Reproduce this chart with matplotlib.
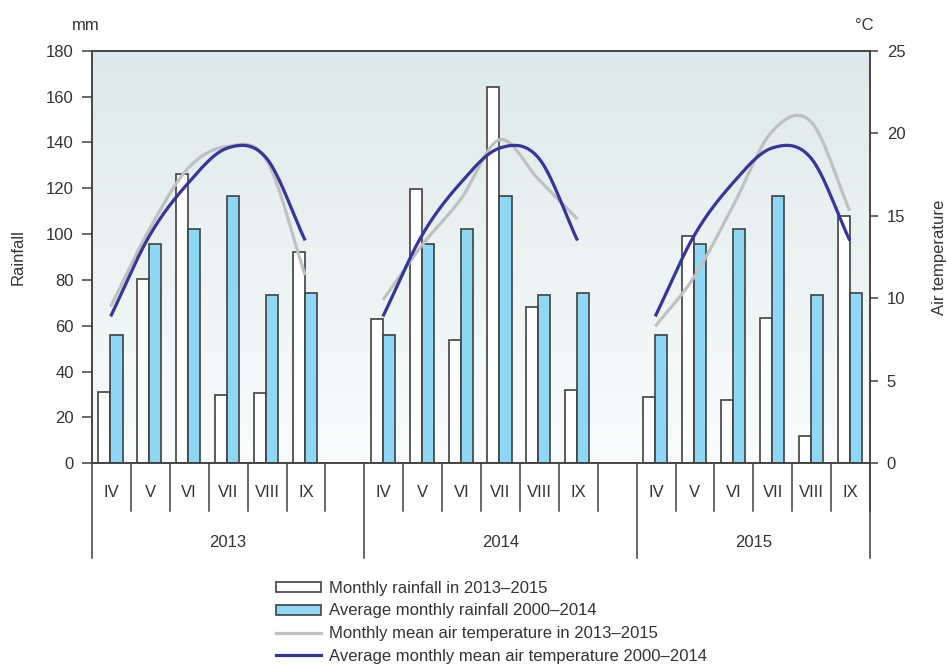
import numpy as np
import matplotlib.pyplot as plt
from matplotlib.colors import LinearSegmentedColormap
from matplotlib.patches import Patch
from matplotlib.lines import Line2D

plt.rcParams['font.family'] = ['Liberation Sans', 'DejaVu Sans']
plt.rcParams['font.size'] = 12

months = ['IV', 'V', 'VI', 'VII', 'VIII', 'IX']
years = ['2013', '2014', '2015']

# rainfall, mm
rain_2013 = [31, 80.5, 126, 30, 30.5, 92]
rain_2014 = [63, 119.5, 54, 164, 68, 32]
rain_2015 = [29, 99, 27.5, 63.5, 12, 108]
rain_avg = [56, 95.5, 102, 116.5, 73.5, 74.5]

# air temperature, deg C
temp_2013 = [9.5, 14.2, 17.9, 19.2, 18.4, 11.4]
temp_2014 = [9.9, 13.2, 16.0, 19.6, 17.2, 14.8]
temp_2015 = [8.3, 11.3, 15.6, 20.1, 20.7, 15.3]
temp_avg = [8.9, 13.8, 17.0, 19.1, 18.5, 13.5]

rain_by_year = [rain_2013, rain_2014, rain_2015]
temp_by_year = [temp_2013, temp_2014, temp_2015]

DARK = '#404040'
BLUE_BAR = '#8ed8f6'
GREY_LINE = '#c0c0c0'
BLUE_LINE = '#35359b'


def smooth(x, y, n=40):
    # Catmull-Rom curve through the points (like a spreadsheet "smooth line")
    x = np.asarray(x, float)
    y = np.asarray(y, float)
    py = np.concatenate([[2 * y[0] - y[1]], y, [2 * y[-1] - y[-2]]])
    t = np.linspace(0, 1, n)
    xs, ys = [], []
    for i in range(len(y) - 1):
        p0, p1, p2, p3 = py[i:i + 4]
        seg = 0.5 * (2 * p1 + (p2 - p0) * t + (2 * p0 - 5 * p1 + 4 * p2 - p3) * t ** 2
                     + (3 * p1 - p0 - 3 * p2 + p3) * t ** 3)
        xs.append(x[i] + (x[i + 1] - x[i]) * t)
        ys.append(seg)
    return np.concatenate(xs), np.concatenate(ys)


fig = plt.figure(figsize=(9.47, 6.66), dpi=100)
ax = fig.add_axes([92 / 947, 1 - 463.3 / 666, 778 / 947, 412.6 / 666])
ax2 = ax.twinx()

# soft background gradient, darker at the top
grad = np.linspace(0, 1, 256).reshape(-1, 1)
cmap = LinearSegmentedColormap.from_list('bg', ['#dde9ea', '#fafcfc'])
ax.imshow(grad, extent=[0, 20, 0, 180], origin='upper', aspect='auto', cmap=cmap, zorder=0)

offsets = [0, 7, 14]
bw = 0.31
for off, rain, temp in zip(offsets, rain_by_year, temp_by_year):
    centers = off + np.arange(len(months)) + 0.5
    ax.bar(centers - 0.18, rain, width=bw, color='white', edgecolor=DARK,
           linewidth=1.2, zorder=2)
    ax.bar(centers + 0.13, rain_avg, width=bw, color=BLUE_BAR, edgecolor=DARK,
           linewidth=1.2, zorder=2)
    xs, ys = smooth(centers - 0.02, temp)
    ax2.plot(xs, ys, color=GREY_LINE, lw=2.3, solid_capstyle='butt')
    xs, ys = smooth(centers - 0.02, temp_avg)
    ax2.plot(xs, ys, color=BLUE_LINE, lw=2.3, solid_capstyle='butt')

ax.set_xlim(0, 20)
ax.set_ylim(0, 180)
ax2.set_ylim(0, 25)
ax.set_yticks(np.arange(0, 181, 20))
ax2.set_yticks(np.arange(0, 26, 5))
ax.set_xticks([])

for a in (ax, ax2):
    for s in a.spines.values():
        s.set_color(DARK)
        s.set_linewidth(1.1)
ax.tick_params(axis='y', length=7, width=1.1, pad=6, color=DARK, labelcolor='#333333')
ax2.tick_params(axis='y', length=6, width=1.1, pad=6, color=DARK, labelcolor='#333333')

# category axis: month and year separators below the plot
trans = ax.get_xaxis_transform()
for off in offsets:
    for i in range(7):
        xpos = off + i
        if xpos > 20:
            break
        long_line = (i == 0)
        ax.plot([xpos, xpos], [0, -0.2295 if long_line else -0.1156], transform=trans,
                color=DARK, lw=1.1, clip_on=False, zorder=3)
ax.plot([20, 20], [0, -0.2295], transform=trans, color=DARK, lw=1.1, clip_on=False)

for off, year in zip(offsets, years):
    for i, m in enumerate(months):
        ax.text(off + i + 0.5, -0.0696, m, transform=trans, ha='center', va='center',
                color='#333333')
    ax.text(off + 3.5 if off < 14 else off + 3, -0.193, year, transform=trans,
            ha='center', va='center', color='#333333')

fig.text(86 / 947, 1 - 25 / 666, 'mm', ha='center', va='center', color='#333333')
fig.text(864 / 947, 1 - 25 / 666, '°C', ha='center', va='center', color='#333333')
fig.text(18 / 947, 1 - 257 / 666, 'Rainfall', rotation=90, ha='center', va='center',
         color='#333333')
fig.text(939 / 947, 1 - 257 / 666, 'Air temperature', rotation=90, ha='center',
         va='center', color='#333333')

handles = [
    Patch(facecolor='white', edgecolor=DARK, linewidth=1.2),
    Patch(facecolor=BLUE_BAR, edgecolor=DARK, linewidth=1.2),
    Line2D([], [], color=GREY_LINE, lw=2.3),
    Line2D([], [], color=BLUE_LINE, lw=2.3),
]
labels = [
    'Monthly rainfall in 2013–2015',
    'Average monthly rainfall 2000–2014',
    'Monthly mean air temperature in 2013–2015',
    'Average monthly mean air temperature 2000–2014',
]
fig.legend(handles, labels, loc='upper left', bbox_to_anchor=(276 / 947, 1 - 581 / 666),
           frameon=False, borderpad=0, borderaxespad=0, handlelength=2.7,
           handleheight=0.55, handletextpad=0.5, labelspacing=0.45,
           labelcolor='#333333')

fig.savefig('out.png', dpi=100)
